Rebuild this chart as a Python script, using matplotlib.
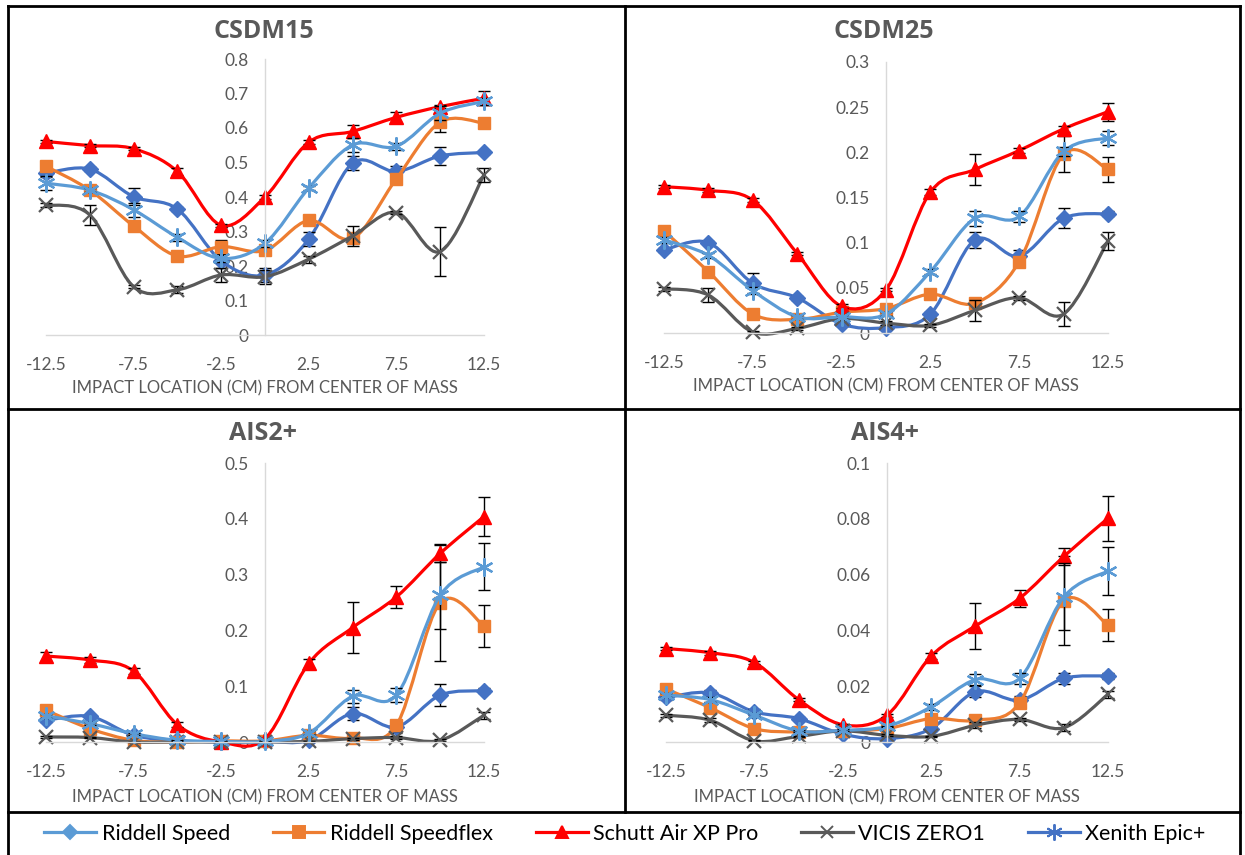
import numpy as np
import matplotlib
matplotlib.use("Agg")
from matplotlib import pyplot as plt
from matplotlib.path import Path
from matplotlib.patches import PathPatch
from matplotlib.lines import Line2D

plt.rcParams["font.family"] = ["Lato", "DejaVu Sans"]

# impact locations (cm) from center of mass
x_cm = [-12.5, -10, -7.5, -5, -2.5, 0, 2.5, 5, 7.5, 10, 12.5]
xtick_vals = [-12.5, -7.5, -2.5, 2.5, 7.5, 12.5]
xtick_labels = ["-12.5", "-7.5", "-2.5", "2.5", "7.5", "12.5"]

helmets = ["Riddell Speed", "Riddell Speedflex", "Schutt Air XP Pro", "VICIS ZERO1", "Xenith Epic+"]

# CSDM15
csdm15_speed = [0.469, 0.481, 0.401, 0.365, 0.215, 0.174, 0.278, 0.498, 0.474, 0.519, 0.529]
csdm15_speedflex = [0.489, 0.42, 0.316, 0.229, 0.256, 0.245, 0.332, 0.28, 0.453, 0.617, 0.614]
csdm15_schutt = [0.561, 0.549, 0.54, 0.474, 0.318, 0.40, 0.559, 0.59, 0.631, 0.662, 0.686]
csdm15_vicis = [0.377, 0.348, 0.14, 0.131, 0.174, 0.169, 0.22, 0.287, 0.355, 0.242, 0.464]
csdm15_xenith = [0.44, 0.42, 0.363, 0.283, 0.222, 0.266, 0.426, 0.551, 0.547, 0.643, 0.677]
csdm15_speed_err = [0.01, 0.005, 0.025, 0.005, 0.02, 0.02, 0.02, 0.02, 0.015, 0.025, 0.005]
csdm15_speedflex_err = [0.005, 0.005, 0.01, 0.005, 0.02, 0.01, 0.005, 0.01, 0.005, 0.03, 0.015]
csdm15_schutt_err = [0.005, 0.005, 0.005, 0.01, 0.005, 0.005, 0.005, 0.02, 0.015, 0.005, 0.02]
csdm15_vicis_err = [0.005, 0.03, 0.005, 0.01, 0.02, 0.02, 0.01, 0.03, 0.005, 0.07, 0.02]
csdm15_xenith_err = [0.02, 0.005, 0.02, 0.01, 0.01, 0.01, 0.005, 0.02, 0.01, 0.02, 0.01]

# CSDM25
csdm25_speed = [0.092, 0.1, 0.055, 0.039, 0.010, 0.006, 0.021, 0.103, 0.085, 0.127, 0.132]
csdm25_speedflex = [0.113, 0.068, 0.021, 0.015, 0.023, 0.027, 0.043, 0.033, 0.079, 0.198, 0.181]
csdm25_schutt = [0.162, 0.158, 0.147, 0.088, 0.0296, 0.048, 0.156, 0.181, 0.202, 0.226, 0.245]
csdm25_vicis = [0.049, 0.042, 0.001, 0.005, 0.016, 0.011, 0.0085, 0.025, 0.039, 0.021, 0.102]
csdm25_xenith = [0.103, 0.086, 0.047, 0.018, 0.018, 0.021, 0.068, 0.127, 0.129, 0.201, 0.216]
csdm25_speed_err = [0.002, 0.002, 0.011, 0.002, 0.002, 0.002, 0.002, 0.009, 0.007, 0.011, 0.003]
csdm25_speedflex_err = [0.003, 0.003, 0.002, 0.002, 0.002, 0.002, 0.002, 0.002, 0.003, 0.02, 0.014]
csdm25_schutt_err = [0.002, 0.002, 0.002, 0.002, 0.002, 0.002, 0.003, 0.017, 0.003, 0.003, 0.01]
csdm25_vicis_err = [0.002, 0.008, 0.001, 0.002, 0.002, 0.002, 0.002, 0.012, 0.002, 0.013, 0.01]
csdm25_xenith_err = [0.003, 0.003, 0.004, 0.002, 0.002, 0.002, 0.003, 0.008, 0.006, 0.005, 0.008]

# AIS2+
ais2_speed = [0.039, 0.046, 0.012, 0.003, 0.0, 0.001, 0.003, 0.051, 0.027, 0.084, 0.092]
ais2_speedflex = [0.057, 0.024, 0.003, 0.0, 0.002, 0.002, 0.012, 0.007, 0.03, 0.25, 0.208]
ais2_schutt = [0.154, 0.147, 0.127, 0.031, 0.0, 0.006, 0.141, 0.205, 0.26, 0.338, 0.404]
ais2_vicis = [0.009, 0.008, 0.0, 0.0, 0.0, 0.0, 0.001, 0.006, 0.008, 0.003, 0.048]
ais2_xenith = [0.047, 0.033, 0.015, 0.003, 0.001, 0.001, 0.016, 0.082, 0.084, 0.263, 0.314]
ais2_speed_err = [0.003, 0.003, 0.002, 0.001, 0.0, 0.0, 0.002, 0.012, 0.01, 0.02, 0.005]
ais2_speedflex_err = [0.004, 0.003, 0.001, 0.0, 0.0, 0.0, 0.003, 0.003, 0.01, 0.105, 0.037]
ais2_schutt_err = [0.008, 0.005, 0.005, 0.005, 0.0, 0.002, 0.008, 0.046, 0.02, 0.015, 0.035]
ais2_vicis_err = [0.001, 0.001, 0.0, 0.0, 0.0, 0.0, 0.001, 0.002, 0.002, 0.002, 0.006]
ais2_xenith_err = [0.004, 0.003, 0.002, 0.001, 0.0, 0.0, 0.004, 0.012, 0.012, 0.06, 0.042]

# AIS4+
ais4_speed = [0.016, 0.0176, 0.0108, 0.0084, 0.0028, 0.0012, 0.0048, 0.018, 0.015, 0.0228, 0.0237]
ais4_speedflex = [0.019, 0.0123, 0.0048, 0.0036, 0.004, 0.0048, 0.0084, 0.0078, 0.014, 0.0507, 0.0419]
ais4_schutt = [0.0335, 0.032, 0.0285, 0.0152, 0.0062, 0.0096, 0.0308, 0.0416, 0.0515, 0.0665, 0.0802]
ais4_vicis = [0.0096, 0.0078, 0.0004, 0.002, 0.004, 0.0024, 0.002, 0.006, 0.0081, 0.0051, 0.0171]
ais4_xenith = [0.0168, 0.0152, 0.0096, 0.004, 0.0042, 0.0056, 0.0126, 0.0224, 0.0228, 0.052, 0.0613]
ais4_speed_err = [0.001, 0.001, 0.001, 0.0005, 0.0003, 0.0003, 0.0008, 0.002, 0.0015, 0.002, 0.001]
ais4_speedflex_err = [0.001, 0.001, 0.0005, 0.0005, 0.0003, 0.0003, 0.001, 0.0008, 0.001, 0.016, 0.0057]
ais4_schutt_err = [0.0007, 0.0007, 0.0006, 0.0005, 0.0003, 0.0005, 0.0012, 0.0082, 0.003, 0.003, 0.0081]
ais4_vicis_err = [0.0005, 0.0008, 0.0002, 0.0003, 0.0003, 0.0003, 0.0003, 0.001, 0.0006, 0.0012, 0.0012]
ais4_xenith_err = [0.0008, 0.0008, 0.0007, 0.0004, 0.0003, 0.0003, 0.001, 0.002, 0.002, 0.012, 0.0087]

# Excel colours / markers as drawn in the plot area
line_colors = ["#4472C4", "#ED7D31", "#FF0000", "#595959", "#5B9BD5"]
markers = ["D", "s", "^", "x", (6, 2, 0)]
marker_sizes = [8, 9, 10, 10, 13]

text_gray = "#595959"
axis_gray = "#D9D9D9"

fig = plt.figure(figsize=(12.45, 8.55), dpi=100)
W, H = 1245.0, 855.0


def smooth_path(xs, ys):
    # Excel style smoothed line: bezier through the points
    pts = np.column_stack([xs, ys]).astype(float)
    n = len(pts)
    verts = [pts[0]]
    codes = [Path.MOVETO]
    for i in range(n - 1):
        p0 = pts[i - 1] if i > 0 else pts[i]
        p1 = pts[i]
        p2 = pts[i + 1]
        p3 = pts[i + 2] if i + 2 < n else pts[i + 1]
        c1 = p1 + (p2 - p0) / 6.0
        c2 = p2 - (p3 - p1) / 6.0
        verts += [c1, c2, p2]
        codes += [Path.CURVE4] * 3
    return Path(verts, codes)


def draw_panel(ax, title, series, errors, ymax, ystep, ylabels, title_xy, xlabel_y):
    ax.set_xlim(-12.5, 12.5)
    ax.set_ylim(0, ymax)
    for i, (ys, es) in enumerate(zip(series, errors)):
        patch = PathPatch(smooth_path(x_cm, ys), facecolor="none", edgecolor=line_colors[i],
                          lw=2.3, zorder=2 + i * 0.1, clip_on=False, capstyle="round")
        ax.add_patch(patch)
        ax.errorbar(x_cm, ys, yerr=es, fmt="none", ecolor="black", elinewidth=1,
                    capsize=4, capthick=1, zorder=2.05 + i * 0.1, clip_on=False)
        mew = 1.6 if markers[i] == "x" or isinstance(markers[i], tuple) else 1
        ax.plot(x_cm, ys, ls="none", marker=markers[i], ms=marker_sizes[i],
                color=line_colors[i], mew=mew, zorder=2.08 + i * 0.1, clip_on=False)

    for s in ["top", "right"]:
        ax.spines[s].set_visible(False)
    ax.spines["left"].set_position(("data", 0))
    ax.spines["left"].set_color(axis_gray)
    ax.spines["bottom"].set_color(axis_gray)
    ax.spines["left"].set_linewidth(1)
    ax.spines["bottom"].set_linewidth(1)
    ax.set_axisbelow(True)

    ax.set_yticks(np.arange(len(ylabels)) * ystep)
    ax.set_yticklabels(ylabels)
    ax.set_xticks(xtick_vals)
    ax.set_xticklabels(xtick_labels)
    ax.tick_params(axis="y", length=0, pad=12, labelsize=12.5, labelcolor=text_gray)
    ax.tick_params(axis="x", length=0, pad=16, labelsize=12.5, labelcolor=text_gray)
    ax.patch.set_alpha(0)

    pos = ax.get_position()
    cx = (pos.x0 + pos.x1) / 2
    fig.text(title_xy[0] / W, 1 - title_xy[1] / H, title, fontsize=18, fontweight="bold",
             color=text_gray, family=["Open Sans", "DejaVu Sans"], ha="center", va="center")
    fig.text(cx, 1 - xlabel_y / H, "IMPACT LOCATION (CM) FROM CENTER OF MASS", fontsize=12,
             color=text_gray, ha="center", va="center")


def add_axes(left, right, top, bottom):
    return fig.add_axes([left / W, 1 - bottom / H, (right - left) / W, (bottom - top) / H])


ax1 = add_axes(46, 484, 59, 335)
ax2 = add_axes(664, 1108, 62, 333)
ax3 = add_axes(46, 484, 463, 742)
ax4 = add_axes(666, 1108, 463, 742)

draw_panel(ax1, "CSDM15",
           [csdm15_speed, csdm15_speedflex, csdm15_schutt, csdm15_vicis, csdm15_xenith],
           [csdm15_speed_err, csdm15_speedflex_err, csdm15_schutt_err, csdm15_vicis_err, csdm15_xenith_err],
           0.8, 0.1, ["0", "0.1", "0.2", "0.3", "0.4", "0.5", "0.6", "0.7", "0.8"], (264, 31), 388)
draw_panel(ax2, "CSDM25",
           [csdm25_speed, csdm25_speedflex, csdm25_schutt, csdm25_vicis, csdm25_xenith],
           [csdm25_speed_err, csdm25_speedflex_err, csdm25_schutt_err, csdm25_vicis_err, csdm25_xenith_err],
           0.3, 0.05, ["0", "0.05", "0.1", "0.15", "0.2", "0.25", "0.3"], (884, 31), 386)
draw_panel(ax3, "AIS2+",
           [ais2_speed, ais2_speedflex, ais2_schutt, ais2_vicis, ais2_xenith],
           [ais2_speed_err, ais2_speedflex_err, ais2_schutt_err, ais2_vicis_err, ais2_xenith_err],
           0.5, 0.1, ["0", "0.1", "0.2", "0.3", "0.4", "0.5"], (263, 434), 797)
draw_panel(ax4, "AIS4+",
           [ais4_speed, ais4_speedflex, ais4_schutt, ais4_vicis, ais4_xenith],
           [ais4_speed_err, ais4_speedflex_err, ais4_schutt_err, ais4_vicis_err, ais4_xenith_err],
           0.1, 0.02, ["0", "0.02", "0.04", "0.06", "0.08", "0.1"], (885, 434), 797)


# panel borders
def fig_line(x0, y0, x1, y1, lw=2.0):
    fig.add_artist(Line2D([x0 / W, x1 / W], [1 - y0 / H, 1 - y1 / H], color="black", lw=lw,
                          solid_capstyle="projecting"))


fig_line(8, 6, 1240, 6)
fig_line(8, 6, 8, 855)
fig_line(1240, 6, 1240, 855)
fig_line(625, 6, 625, 812)
fig_line(8, 409, 1240, 409)
fig_line(8, 812, 1240, 812)

# legend (colours as shown in the original legend box)
legend_colors = ["#5B9BD5", "#ED7D31", "#FF0000", "#595959", "#4472C4"]
handles = []
for i, name in enumerate(helmets):
    handles.append(Line2D([], [], color=legend_colors[i], lw=2.3, marker=markers[i],
                          ms=marker_sizes[i] * 0.9, mew=1.4, label=name))
fig.legend(handles=handles, loc="center", bbox_to_anchor=(625 / W, 1 - 834 / H), ncol=5,
           frameon=False, fontsize=15.5, handlelength=2.4, handletextpad=0.25,
           columnspacing=2.0, borderaxespad=0)

fig.savefig("out.png", dpi=100)
